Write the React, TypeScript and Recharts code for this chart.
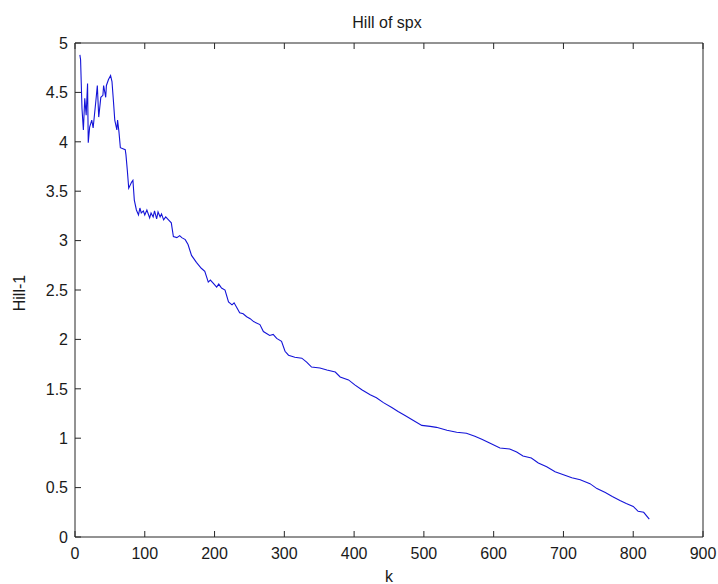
import React from 'react';
import { LineChart, Line, XAxis, YAxis } from 'recharts';

// Hill estimator of the tail index for spx, by number of order statistics k
const kValues = [
  7, 8, 10, 12, 14, 16, 18, 19, 21, 24, 26, 30, 32, 34, 37, 40, 41, 44, 45, 48,
  51, 53, 55, 57, 60, 61, 63, 65, 72, 73, 75, 77, 81, 83, 85, 88, 91, 93, 95, 98,
  100, 103, 107, 109, 112, 114, 117, 119, 122, 124, 127, 130, 134, 138, 141, 146, 150, 153, 158, 162,
  167, 174, 181, 186, 191, 194, 198, 203, 206, 210, 215, 220, 225, 228, 232, 236, 241, 246, 251, 256,
  265, 270, 279, 284, 289, 296, 301, 306, 315, 325, 332, 339, 351, 361, 373, 380, 392, 401, 411, 423,
  432, 442, 454, 463, 473, 485, 497, 509, 518, 533, 547, 561, 573, 583, 595, 609, 623, 633, 642, 654,
  664, 676, 688, 700, 712, 724, 738, 748, 760, 770, 781, 790, 800, 807, 815, 823,
];

const hillValues = [
  4.88, 4.83, 4.34, 4.12, 4.44, 4.27, 4.59, 3.99, 4.15, 4.22, 4.14, 4.42, 4.57, 4.25, 4.45, 4.47, 4.57, 4.45, 4.57, 4.63,
  4.67, 4.61, 4.42, 4.22, 4.12, 4.22, 4.1, 3.94, 3.92, 3.87, 3.71, 3.53, 3.59, 3.61, 3.41, 3.31, 3.26, 3.33, 3.28, 3.3,
  3.26, 3.31, 3.23, 3.28, 3.24, 3.3, 3.22, 3.29, 3.24, 3.27, 3.21, 3.24, 3.21, 3.18, 3.04, 3.03, 3.05, 3.03, 3.01, 2.96,
  2.85, 2.78, 2.72, 2.69, 2.58, 2.6, 2.57, 2.53, 2.56, 2.52, 2.5, 2.38, 2.35, 2.37, 2.32, 2.27, 2.26, 2.23, 2.21, 2.18,
  2.15, 2.08, 2.04, 2.05, 2.01, 1.98, 1.88, 1.84, 1.82, 1.81, 1.77, 1.72, 1.71, 1.69, 1.67, 1.62, 1.59, 1.54, 1.49, 1.44,
  1.41, 1.36, 1.31, 1.27, 1.23, 1.18, 1.13, 1.12, 1.11, 1.08, 1.06, 1.05, 1.02, 0.99, 0.95, 0.9, 0.89, 0.86, 0.82, 0.8,
  0.75, 0.71, 0.66, 0.63, 0.6, 0.58, 0.54, 0.49, 0.45, 0.41, 0.37, 0.34, 0.31, 0.26, 0.25, 0.18,
];

const xTicks = [0, 100, 200, 300, 400, 500, 600, 700, 800, 900];
const yTicks = [0, 0.5, 1, 1.5, 2, 2.5, 3, 3.5, 4, 4.5, 5];

const titleText = 'Hill of spx';
const xLabelText = 'k';
const yLabelText = 'Hill-1';

const data = kValues.map((k, i) => ({ k, hill: hillValues[i] }));

const FONT = '"Liberation Sans", Arial, Helvetica, sans-serif';
const AXIS = '#262626';
const TEXT = '#1a1a1a';
const TICK_LEN = 6;
const FS = 16;

const BottomTick = (props: any) => {
  const { x, y, payload } = props;
  return (
    <g>
      <line x1={x} y1={y} x2={x} y2={y - TICK_LEN} stroke={AXIS} strokeWidth={1} />
      <text x={x} y={y + 22} textAnchor="middle" fontFamily={FONT} fontSize={FS} fill={TEXT}>
        {payload.value}
      </text>
    </g>
  );
};

const TopTick = (props: any) => {
  const { x, y } = props;
  return <line x1={x} y1={y} x2={x} y2={y + TICK_LEN} stroke={AXIS} strokeWidth={1} />;
};

const LeftTick = (props: any) => {
  const { x, y, payload } = props;
  return (
    <g>
      <line x1={x} y1={y} x2={x + TICK_LEN} y2={y} stroke={AXIS} strokeWidth={1} />
      <text x={x - 7} y={y} dy="0.36em" textAnchor="end" fontFamily={FONT} fontSize={FS} fill={TEXT}>
        {payload.value}
      </text>
    </g>
  );
};

const RightTick = (props: any) => {
  const { x, y } = props;
  return <line x1={x} y1={y} x2={x - TICK_LEN} y2={y} stroke={AXIS} strokeWidth={1} />;
};

const XLabel = (props: any) => {
  const { viewBox } = props;
  return (
    <text x={viewBox.x + viewBox.width / 2} y={viewBox.y + 45} textAnchor="middle" fontFamily={FONT} fontSize={FS} fill={TEXT}>
      {xLabelText}
    </text>
  );
};

const Title = (props: any) => {
  const { viewBox } = props;
  return (
    <text x={viewBox.x + viewBox.width / 2 - 2} y={28} textAnchor="middle" fontFamily={FONT} fontSize={FS} fill={TEXT}>
      {titleText}
    </text>
  );
};

const YLabel = (props: any) => {
  const { viewBox } = props;
  const cx = 19;
  const cy = viewBox.y + viewBox.height / 2 + 3;
  return (
    <text x={cx} y={cy} transform={`rotate(-90 ${cx} ${cy})`} dy="0.36em" textAnchor="middle" fontFamily={FONT} fontSize={FS} fill={TEXT}>
      {yLabelText}
    </text>
  );
};

export default function App() {
  return (
    <div style={{ position: 'absolute', left: 0, top: 0, width: 718, height: 584, background: '#ffffff' }}>
      <LineChart width={718} height={584} data={data} margin={{ top: 0, right: 0, bottom: 0, left: 0 }}>
        <XAxis
          xAxisId="bottom"
          dataKey="k"
          type="number"
          domain={[0, 900]}
          ticks={xTicks}
          interval={0}
          orientation="bottom"
          height={47}
          stroke={AXIS}
          tickLine={false}
          tickSize={0}
          tickMargin={0}
          tick={<BottomTick />}
          label={<XLabel />}
        />
        <XAxis
          xAxisId="top"
          dataKey="k"
          type="number"
          domain={[0, 900]}
          ticks={xTicks}
          interval={0}
          orientation="top"
          height={43}
          stroke={AXIS}
          tickLine={false}
          tickSize={0}
          tickMargin={0}
          tick={<TopTick />}
          label={<Title />}
        />
        <YAxis
          yAxisId="left"
          type="number"
          domain={[0, 5]}
          ticks={yTicks}
          interval={0}
          orientation="left"
          width={75}
          stroke={AXIS}
          tickLine={false}
          tickSize={0}
          tickMargin={0}
          tick={<LeftTick />}
          label={<YLabel />}
        />
        <YAxis
          yAxisId="right"
          type="number"
          domain={[0, 5]}
          ticks={yTicks}
          interval={0}
          orientation="right"
          width={15}
          stroke={AXIS}
          tickLine={false}
          tickSize={0}
          tickMargin={0}
          tick={<RightTick />}
        />
        <Line
          xAxisId="bottom"
          yAxisId="left"
          dataKey="hill"
          type="linear"
          stroke="#1414d8"
          strokeWidth={1.1}
          dot={false}
          isAnimationActive={false}
        />
      </LineChart>
    </div>
  );
}
